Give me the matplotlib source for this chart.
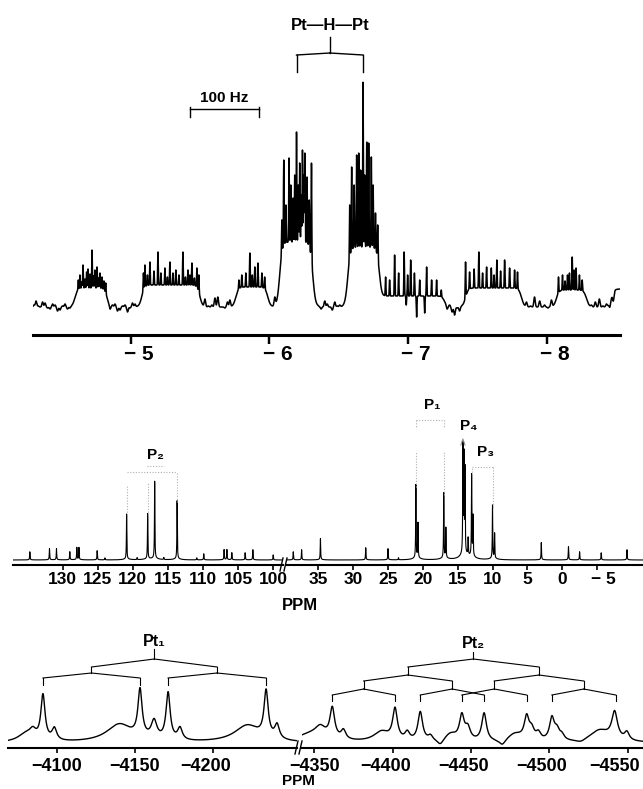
import numpy as np
import matplotlib
matplotlib.use('Agg')
import matplotlib.pyplot as plt
from matplotlib.lines import Line2D
from matplotlib.transforms import ScaledTranslation

plt.rcParams['font.family'] = ['Liberation Sans', 'DejaVu Sans']
plt.rcParams['font.weight'] = 'bold'

# ---------------- 1H hydride region (ppm, heights above axis) ----------------
h_base = 28
h_env_lo = [-4.827, -5.497, -5.988, -6.312, -6.795, -7.264, -7.819, -8.288, -8.700]
h_env_hi = [-4.596, -5.079, -5.757, -6.074, -6.565, -6.810, -7.415, -8.071, -8.468]
h_env_level = [19, 22, 20, 65, 60, 11, 19, 17, 18]

h_line_ppm = [
    -4.620, -4.632, -4.645, -4.654, -4.668, -4.680, -4.690, -4.704, -4.719, -4.730,
    -4.740, -4.755, -4.766, -4.776, -4.791, -4.805, -4.818,
    -5.090, -5.101, -5.119, -5.137, -5.166, -5.195, -5.216, -5.245, -5.263, -5.281,
    -5.303, -5.324, -5.346, -5.375, -5.393, -5.411, -5.425, -5.440, -5.458, -5.476, -5.490,
    -5.779, -5.800, -5.829, -5.858, -5.876, -5.894, -5.916, -5.945, -5.965,
    -6.089, -6.103, -6.118, -6.141, -6.154, -6.170, -6.182, -6.195, -6.208, -6.218,
    -6.229, -6.238, -6.247, -6.255, -6.271, -6.287, -6.303,
    -6.579, -6.593, -6.611, -6.629, -6.644, -6.658, -6.675, -6.687, -6.702, -6.716,
    -6.735, -6.748, -6.765, -6.781,
    -6.838, -6.867, -6.903, -6.932, -6.972, -6.987, -6.997, -7.019, -7.046, -7.062,
    -7.084, -7.120, -7.134, -7.170, -7.206, -7.240,
    -7.415, -7.444, -7.477, -7.511, -7.538, -7.567, -7.601, -7.621, -7.641, -7.668,
    -7.697, -7.733, -7.769, -7.790,
    -8.086, -8.115, -8.133, -8.151, -8.165, -8.185, -8.198, -8.213, -8.237, -8.257,
]
h_line_height = [
    55, 60, 53, 70, 56, 63, 66, 61, 85, 59, 65, 68, 57, 62, 58, 54, 52,
    62, 70, 60, 73, 64, 83, 62, 67, 58, 73, 62, 65, 60, 83, 58, 65, 60, 72, 57, 67, 60,
    55, 60, 62, 82, 60, 68, 72, 62, 58,
    115, 175, 130, 177, 150, 137, 160, 203, 150, 172, 140, 185, 160, 182, 158, 135, 172,
    130, 168, 150, 180, 182, 165, 253, 160, 193, 192, 178, 150, 122, 110,
    58, 55, 80, 62, 83, 30, 60, 75, 62, 18, 55, 22, 68, 55, 55, 45,
    73, 63, 66, 83, 62, 68, 67, 60, 75, 64, 75, 67, 65, 63,
    58, 60, 54, 60, 62, 78, 65, 67, 60, 55,
]
h_noise_ppm = [-4.300, -4.315, -4.330, -4.344, -4.362, -4.380, -4.398, -4.416, -4.434, -4.452,
               -4.470, -4.488, -4.506, -4.524, -4.542, -4.560, -4.849, -4.867, -4.885, -4.903,
               -4.921, -4.939, -4.957, -4.975, -4.993, -5.011, -5.029, -5.534, -5.559, -5.584,
               -5.606, -5.627, -5.652, -5.678, -5.696, -5.714, -6.002, -6.038, -6.348, -6.372,
               -6.399, -6.417, -6.435, -6.453, -6.471, -6.489, -6.507, -7.282, -7.300, -7.318,
               -7.336, -7.354, -7.372, -7.855, -7.884, -7.913, -7.950, -7.985, -8.010, -8.035,
               -8.324, -8.352, -8.381, -8.406, -8.432, -8.457, -8.482]
h_noise_height = [30, 34, 29, 28, 33, 32, 27, 26, 31, 30, 24, 25, 29, 31, 26, 27, 26, 30, 31, 24,
                  25, 29, 30, 23, 27, 32, 31, 36, 29, 30, 37, 38, 28, 27, 33, 35, 32, 38, 30, 26,
                  34, 31, 28, 25, 33, 29, 30, 26, 30, 23, 20, 27, 24, 33, 29, 38, 34, 30, 27, 35,
                  30, 33, 36, 29, 31, 28, 34]
h_ticks = [-5, -6, -7, -8]
h_pair = [-6.195, -6.675]

# ---------------- 31P spectrum ----------------
p_base = 5
p_left_ppm = [134.7, 131.9, 130.9, 129.0, 128.0, 127.7, 125.1, 124.0, 120.9, 119.4, 117.9,
              116.9, 115.6, 113.7, 110.9, 109.9, 107.0, 106.6, 105.9, 104.0, 102.9, 100.0]
p_left_height = [13, 16, 16, 13, 17, 17, 14, 7, 50, 7, 50, 82, 7, 63, 7, 11, 15, 15, 12, 12, 15, 10]
p_right_ppm = [38.6, 37.4, 34.7, 28.2, 25.0, 23.5, 21.0, 20.7, 17.0, 16.7, 14.25, 14.1, 13.95,
               13.5, 13.0, 12.8, 10.0, 9.7, 3.0, -0.9, -2.5, -5.6, -9.3]
p_right_height = [13, 15, 26, 17, 16, 7, 78, 40, 70, 35, 112, 100, 88, 22, 86, 45, 58, 30,
                  22, 18, 13, 12, 15]
p_left_ticks = [130, 125, 120, 115, 110, 105, 100]
p_right_ticks = [35, 30, 25, 20, 15, 10, 5, 0, -5]

# ---------------- 195Pt spectrum ----------------
pt_base = 5
pt_left_ppm = [-4080.0, -4084.5, -4091.0, -4098.3, -4140.0, -4153.2, -4162.2, -4171.2,
               -4178.8, -4222.0, -4234.0, -4241.0]
pt_left_height = [8, 8, 45, 12, 18, 47, 18, 47, 12, 17, 46, 14]
pt_left_width = [6, 2.5, 1.6, 1.8, 10, 1.6, 2.2, 1.6, 1.8, 10, 1.6, 1.8]
pt_right_ppm = [-4348.0, -4354.0, -4361.6, -4368.7, -4393.0, -4401.6, -4409.4, -4417.7,
                -4424.2, -4430.5, -4437.0, -4444.2, -4448.0, -4458.4, -4470.0, -4478.0,
                -4485.5, -4488.7, -4493.0, -4501.6, -4504.8, -4508.0, -4520.0, -4532.0,
                -4541.6, -4549.4]
pt_right_height = [8, 10, 30, 9, 10, 31, 8, 29, 5, -6, 8, 24, 12, 28, -6, 8, 22, 10, 7, 22,
                   10, 5, -3, 12, 27, 8]
pt_right_width = [12, 4, 1.8, 1.8, 6, 1.8, 1.8, 1.8, 1.8, 2.5, 5, 1.8, 2.0, 1.8, 2.5, 6,
                  1.8, 2.0, 1.8, 1.8, 2.0, 1.8, 4, 8, 2.2, 1.8]
pt1_lines = [-4091.0, -4153.2, -4171.2, -4234.0]
pt2_lines = [-4361.6, -4401.6, -4417.7, -4458.4, -4444.2, -4485.5, -4501.6, -4542.3]
pt_left_ticks = [-4100, -4150, -4200]
pt_right_ticks = [-4350, -4400, -4450, -4500, -4550]

W, H = 643, 789
fig = plt.figure(figsize=(W / 100, H / 100), dpi=100)


def box(x0, x1, ybot, ytop):
    return [x0 / W, 1 - ybot / H, (x1 - x0) / W, (ybot - ytop) / H]


def lor(x, x0, w):
    return 1.0 / (1.0 + ((x - x0) / w) ** 2)


def gau(x, x0, s):
    return np.exp(-0.5 * ((x - x0) / s) ** 2)


def style(ax, lw, tlen, pad, size):
    for s in ['top', 'left', 'right']:
        ax.spines[s].set_visible(False)
    ax.spines['bottom'].set_linewidth(lw)
    ax.yaxis.set_visible(False)
    ax.patch.set_visible(False)
    ax.tick_params(axis='x', direction='out', length=tlen, width=lw * 0.8, pad=pad,
                   labelsize=size)


def shift(label, px):
    label.set_transform(label.get_transform() + ScaledTranslation(px / 100, 0, fig.dpi_scale_trans))


def tree(ax, xs, apex, stem_top, levels, lw):
    c = np.mean(xs)
    ax.plot([c, c], [apex, stem_top], color='k', lw=lw)

    def rec(part, y_node, depth):
        if len(part) == 1:
            return
        half = len(part) // 2
        top, bot = levels[depth]
        for sub in (part[:half], part[half:]):
            cx = np.mean(sub)
            ax.plot([np.mean(part), cx], [y_node, top], color='k', lw=lw)
            ax.plot([cx, cx], [top, bot], color='k', lw=lw)
            rec(sub, bot, depth + 1)

    rec(list(xs), apex, 0)


# ======== top: 1H ========
ax1 = fig.add_axes(box(33, 620, 335, 0))
ppm = np.linspace(-4.293, -8.53, 16000)


def h_env(p):
    tot = np.zeros_like(np.asarray(p, dtype=float))
    for lo, hi, lv in zip(h_env_lo, h_env_hi, h_env_level):
        a = np.clip((lo - p) / 0.01, -50, 50)
        b = np.clip((p - hi) / 0.01, -50, 50)
        tot = tot + lv / (1 + np.exp(a)) / (1 + np.exp(b))
    return tot


spec = h_base + h_env(ppm)
for p0, hh in zip(h_noise_ppm, h_noise_height):
    spec += (hh - h_base - h_env(np.array(p0))) * gau(ppm, p0, 0.005)
for p0, hh in zip(h_line_ppm, h_line_height):
    spec += (hh - h_base - h_env(np.array(p0))) * gau(ppm, p0, 0.0022)
ax1.plot(ppm, spec, color='k', lw=1.1)
ax1.set_xlim(-4.293, -8.53)
ax1.set_ylim(0, 335)
style(ax1, 2.2, 6.5, 1, 15)
ax1.set_xticks(h_ticks)
ax1.set_xticklabels(['− %d' % abs(t) for t in h_ticks])
for lb in ax1.get_xticklabels():
    shift(lb, 8)

tree(ax1, h_pair, 282, 298, [(280, 263)], 1.0)
ax1.text(np.mean(h_pair), 310, 'Pt—H—Pt', ha='center', va='center', fontsize=12)
# 100 Hz scale bar (0.5 ppm at 200 MHz)
ax1.plot([-5.425, -5.925], [226, 226], color='k', lw=1.0)
ax1.plot([-5.425, -5.425], [218, 228], color='k', lw=1.0)
ax1.plot([-5.925, -5.925], [218, 228], color='k', lw=1.0)
ax1.text(-5.675, 237.5, '100 Hz', ha='center', va='center', fontsize=11)

# ======== middle: 31P ========
axl = fig.add_axes(box(13, 283, 565, 395))
axr = fig.add_axes(box(287, 643, 565, 395))
for ax, pp, hh, lim, ticks in [(axl, p_left_ppm, p_left_height, (137.1, 98.6), p_left_ticks),
                               (axr, p_right_ppm, p_right_height, (39.5, -11.6), p_right_ticks)]:
    x = np.linspace(lim[0], lim[1], 12000)
    y = np.full_like(x, p_base, dtype=float)
    for p0, h0 in zip(pp, hh):
        y += (h0 - p_base) * lor(x, p0, 0.035) + 0.02 * (h0 - p_base) * lor(x, p0, 0.6)
    ax.plot(x, y, color='k', lw=0.8)
    ax.set_xlim(*lim)
    ax.set_ylim(0, 170)
    style(ax, 1.5, 3.5, 1.5, 12.5)
    ax.set_xticks(ticks)
    ax.set_xticklabels([('− %d' % abs(t)) if t < 0 else str(t) for t in ticks])
shift(axr.get_xticklabels()[-1], 6)

faint = dict(color='#b0b0b0', lw=0.8, ls=(0, (1, 1.5)))
for p0, a, b in [(120.9, 50, 80), (117.9, 50, 82), (113.7, 63, 92)]:
    axl.plot([p0, p0], [a, b], **faint)
axl.plot([120.9, 113.7], [93, 93], **faint)
axl.plot([118.0, 115.6], [99, 99], **faint)
axl.text(116.86, 110, 'P₂', ha='center', va='center', fontsize=11)
for p0, a, b in [(21.0, 78, 113), (17.0, 70, 113), (13.0, 90, 98), (10.0, 58, 98)]:
    axr.plot([p0, p0], [a, b], **faint)
axr.plot([21.0, 17.0], [145, 145], **faint)
axr.plot([21.0, 21.0], [145, 138], **faint)
axr.plot([17.0, 17.0], [145, 138], **faint)
axr.plot([13.0, 10.0], [98, 98], **faint)
axr.plot([14.55, 14.25, 13.95], [120, 126, 120], color='#909090', lw=0.8)
axr.text(18.6, 160, 'P₁', ha='center', va='center', fontsize=11)
axr.text(13.4, 139, 'P₄', ha='center', va='center', fontsize=11)
axr.text(11.0, 113, 'P₃', ha='center', va='center', fontsize=11)
fig.text(300 / W, 1 - 605 / H, 'PPM', ha='center', va='center', fontsize=12)

# ======== bottom: 195Pt ========
bl = fig.add_axes(box(8, 297, 748, 620))
br = fig.add_axes(box(302, 643, 748, 620))
for ax, pp, hh, ww, lim, ticks in [
        (bl, pt_left_ppm, pt_left_height, pt_left_width, (-4068.6, -4253.8), pt_left_ticks),
        (br, pt_right_ppm, pt_right_height, pt_right_width, (-4342.3, -4559.7), pt_right_ticks)]:
    x = np.linspace(lim[0], lim[1], 4000)
    y = np.full_like(x, pt_base, dtype=float)
    for p0, h0, w0 in zip(pp, hh, ww):
        y += h0 * lor(x, p0, w0)
    ax.plot(x, y, color='k', lw=1.0)
    ax.set_xlim(*lim)
    ax.set_ylim(0, 128)
    style(ax, 1.5, 3.5, 4, 13)
    ax.set_xticks(ticks)
    ax.set_xticklabels(['−%d' % abs(t) for t in ticks])
shift(bl.get_xticklabels()[-1], -7)
for lb, dx in zip(br.get_xticklabels()[1:], [-7, -7, -8, -13]):
    shift(lb, dx)

tree(bl, pt1_lines, 89, 99, [(81, 75), (70, 63)], 0.8)
bl.text(np.mean(pt1_lines), 106, 'Pt₁', ha='center', va='center', fontsize=11.5)
tree(br, pt2_lines, 89, 96, [(81, 73), (67, 59), (53, 47)], 0.8)
br.text(np.mean(pt2_lines), 105, 'Pt₂', ha='center', va='center', fontsize=11.5)
fig.text(298 / W, 1 - 781 / H, 'PPM', ha='center', va='center', fontsize=11)

# axis break marks
for x0, y0, x1, y1 in [(280, 571, 283, 558), (284, 571, 287, 558),
                       (295, 754, 298, 741), (299, 754, 302, 741)]:
    fig.add_artist(Line2D([x0 / W, x1 / W], [1 - y0 / H, 1 - y1 / H], color='k', lw=1.0))

fig.savefig('out.png', dpi=100)
